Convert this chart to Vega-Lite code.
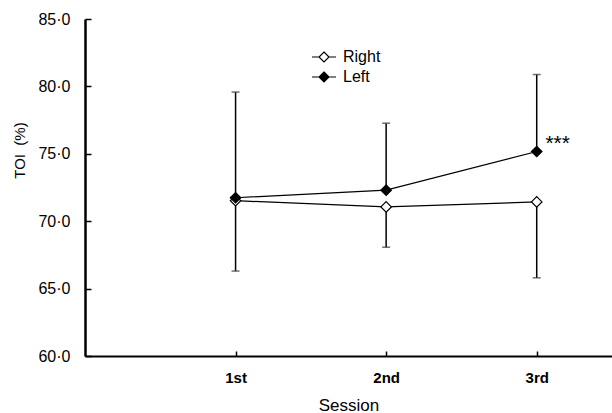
{
  "$schema": "https://vega.github.io/schema/vega-lite/v6.json",
  "width": 527,
  "height": 337,
  "autosize": {"type": "none"},
  "padding": {"left": 85, "top": 19, "right": 0, "bottom": 57},
  "background": "white",
  "config": {
    "view": {"stroke": null},
    "font": "Liberation Sans",
    "axis": {"grid": false, "domainColor": "black", "tickColor": "black", "labelColor": "black", "titleColor": "black", "labelFont": "Liberation Sans", "titleFont": "Liberation Sans"}
  },
  "data": {
    "values": [
      {"session": 1, "side": "Right", "mean": 71.52, "end": 66.3},
      {"session": 2, "side": "Right", "mean": 71.06, "end": 68.07},
      {"session": 3, "side": "Right", "mean": 71.43, "end": 65.8},
      {"session": 1, "side": "Left", "mean": 71.74, "end": 79.58},
      {"session": 2, "side": "Left", "mean": 72.3, "end": 77.27},
      {"session": 3, "side": "Left", "mean": 75.17, "end": 80.88}
    ]
  },
  "encoding": {
    "x": {
      "field": "session", "type": "quantitative",
      "scale": {"domain": [0, 3.5], "nice": false, "zero": true},
      "axis": {
        "values": [1, 2, 3],
        "labelExpr": "datum.value == 1 ? '1st' : datum.value == 2 ? '2nd' : '3rd'",
        "title": "Session", "titleFontSize": 17, "titleFontWeight": "normal", "titlePadding": 12,
        "labelFontSize": 15, "labelFontWeight": "bold", "labelPadding": 19,
        "tickSize": -5, "tickWidth": 1.5, "domainWidth": 2
      }
    }
  },
  "layer": [
    {
      "mark": {"type": "rule", "color": "black", "strokeWidth": 1.5},
      "encoding": {
        "y": {"field": "mean", "type": "quantitative"},
        "y2": {"field": "end"}
      }
    },
    {
      "mark": {"type": "tick", "orient": "horizontal", "color": "#333", "size": 8, "thickness": 1.5},
      "encoding": {"y": {"field": "end", "type": "quantitative"}}
    },
    {
      "mark": {"type": "line", "color": "black", "strokeWidth": 1.2},
      "encoding": {
        "y": {"field": "mean", "type": "quantitative"},
        "detail": {"field": "side"}
      }
    },
    {
      "mark": {"type": "point", "shape": "diamond", "size": 110, "filled": true, "stroke": "black", "strokeWidth": 1.2, "opacity": 1},
      "encoding": {
        "y": {
          "field": "mean", "type": "quantitative",
          "scale": {"domain": [60, 85], "nice": false, "zero": false},
          "axis": {
            "values": [60, 65, 70, 75, 80, 85],
            "labelExpr": "replace(format(datum.value, '.1f'), '.', '·')",
            "labelFontSize": 16, "labelPadding": 21,
            "tickSize": -6, "tickWidth": 1.5, "domainWidth": 2.5,
            "title": "TOI\u00a0\u00a0(%)", "titleFontSize": 15, "titleFontWeight": "normal",
            "titleAngle": -90, "titleAlign": "center", "titleBaseline": "middle",
            "titleX": -66, "titleY": 131
          }
        },
        "fill": {
          "field": "side", "type": "nominal",
          "scale": {"domain": ["Right", "Left"], "range": ["white", "black"]},
          "legend": {
            "title": null, "orient": "none", "legendX": 228, "legendY": 27,
            "symbolType": "M-1.2,0H-0.5M0.5,0H1.2M0,-0.5L0.5,0L0,0.5L-0.5,0Z",
            "symbolSize": 400, "symbolStrokeColor": "black", "symbolStrokeWidth": 1.2,
            "labelFontSize": 16, "labelOffset": 8, "rowPadding": 1, "padding": 0
          }
        }
      }
    },
    {
      "transform": [{"filter": "datum.side == 'Left' && datum.session == 3"}],
      "mark": {"type": "text", "text": "***", "fontSize": 21, "dx": 21, "dy": -2, "align": "center", "baseline": "alphabetic", "color": "black"},
      "encoding": {"y": {"field": "mean", "type": "quantitative"}}
    }
  ]
}
